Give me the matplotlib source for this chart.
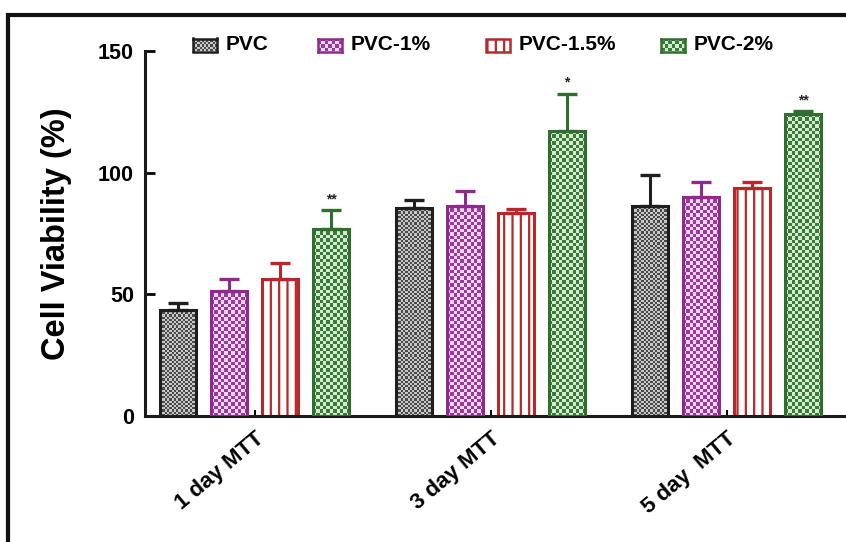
import numpy as np
import matplotlib
matplotlib.use("Agg")
import matplotlib.pyplot as plt
from matplotlib.colors import ListedColormap
from matplotlib.patches import Rectangle
from matplotlib import font_manager

# ---------------- data ----------------
categories = ["1 day MTT", "3 day MTT", "5 day  MTT"]
series_names = ["PVC", "PVC-1%", "PVC-1.5%", "PVC-2%"]
pvc_mean = [43.5, 85.5, 86.5]
pvc_err = [2.8, 3.3, 12.5]
pvc1_mean = [51.5, 86.5, 90.0]
pvc1_err = [5.0, 6.0, 6.3]
pvc15_mean = [56.5, 83.5, 93.5]
pvc15_err = [6.2, 1.5, 2.5]
pvc2_mean = [77.0, 117.0, 124.0]
pvc2_err = [7.5, 15.5, 1.3]
pvc2_signif = ["**", "*", "**"]
yticks = [0, 50, 100, 150]

means = [pvc_mean, pvc1_mean, pvc15_mean, pvc2_mean]
errs = [pvc_err, pvc1_err, pvc15_err, pvc2_err]

# ---------------- style ----------------
edge_colors = ["#1e1e1e", "#8e2a8e", "#b8282a", "#2f6e2f"]
checker_dark = ["#4a4a4a", "#9a3a9a", None, "#3b7a3b"]
checker_light = ["#c8c8c8", "#f4d6f4", None, "#d4edcf"]
checker_cell = [2.2, 3.4, None, 3.4]

avail = {f.name for f in font_manager.fontManager.ttflist}
main_font = "Liberation Sans" if "Liberation Sans" in avail else "DejaVu Sans"
narrow_font = "Liberation Sans Narrow" if "Liberation Sans Narrow" in avail else main_font
plt.rcParams["font.family"] = [main_font, "DejaVu Sans"]
plt.rcParams["font.weight"] = "bold"
plt.rcParams["hatch.linewidth"] = 1.6

W, H = 846, 542
fig = plt.figure(figsize=(W / 100, H / 100), dpi=100)
ax_left, ax_bottom = 145 / W, 1 - 416 / H
ax_w, ax_h = 1 - ax_left, (416 - 51) / H
ax = fig.add_axes([ax_left, ax_bottom, ax_w, ax_h])

xlim = (-0.464, 2.506)
ylim = (0, 150)
px_x = ax_w * W / (xlim[1] - xlim[0])
px_y = ax_h * H / (ylim[1] - ylim[0])

step = 0.216
width = 0.153
offsets = [(-1.5 + i) * step for i in range(4)]
xg = np.arange(len(categories))

for s in range(4):
    xs = xg + offsets[s]
    if s == 2:
        bars = ax.bar(xs, means[s], width, facecolor="white", edgecolor=edge_colors[s],
                      hatch="||", linewidth=2.2, zorder=2)
    else:
        bars = ax.bar(xs, means[s], width, facecolor="none", edgecolor=edge_colors[s],
                      linewidth=2.2, zorder=3)
        cmap = ListedColormap([checker_light[s], checker_dark[s]])
        for b in bars:
            x0, w, h = b.get_x(), b.get_width(), b.get_height()
            nx = max(1, int(round(w * px_x / checker_cell[s])))
            ny = max(1, int(round(h * px_y / checker_cell[s])))
            arr = np.add.outer(np.arange(ny), np.arange(nx)) % 2
            im = ax.imshow(arr, extent=(x0, x0 + w, 0, h), cmap=cmap, origin="lower",
                           interpolation="nearest", aspect="auto", zorder=1)
            im.set_clip_path(b)
    ax.errorbar(xs, means[s], yerr=[np.zeros(3), errs[s]], fmt="none",
                ecolor=edge_colors[s], elinewidth=2.2, capsize=7.5, capthick=2.4, zorder=2)

for i in range(3):
    ax.text(xg[i] + offsets[3], pvc2_mean[i] + pvc2_err[i] + 1.5, pvc2_signif[i],
            ha="center", va="bottom", fontsize=10, color="#222")

ax.set_xlim(*xlim)
ax.set_ylim(*ylim)
ax.set_yticks(yticks)
ax.set_yticklabels([str(t) for t in yticks], fontsize=15.5, fontweight="bold")
ax.set_xticks(xg)
ax.set_xticklabels(categories, rotation=40, ha="right", va="top", rotation_mode="anchor",
                   fontsize=16, fontweight="bold")
ax.tick_params(axis="y", direction="in", length=7, width=2, pad=8)
ax.tick_params(axis="x", direction="in", length=4, width=1.5, pad=9)
for sp in ["top", "right"]:
    ax.spines[sp].set_visible(False)
for sp in ["left", "bottom"]:
    ax.spines[sp].set_linewidth(2.2)
    ax.spines[sp].set_color("#1a1a1a")

fig.text(57 / W, 1 - 234 / H, "Cell Viability (%)", rotation=90, ha="center", va="center",
         fontsize=23.5, fontweight="bold", family=[narrow_font, "DejaVu Sans"])

# ---------------- legend (manual keys) ----------------
leg_x = [193, 318, 486, 661]
leg_y = 45
kw, kh = 24, 13
for s in range(4):
    x0 = leg_x[s] / W
    y0 = 1 - (leg_y + kh / 2) / H
    wf, hf = kw / W, kh / H
    if s == 2:
        r = Rectangle((x0, y0), wf, hf, transform=fig.transFigure, facecolor="white",
                      edgecolor=edge_colors[s], hatch="||", linewidth=1.8)
        fig.add_artist(r)
    else:
        lax = fig.add_axes([x0, y0, wf, hf])
        nx = int(round(kw / checker_cell[s]))
        ny = int(round(kh / checker_cell[s]))
        arr = np.add.outer(np.arange(ny), np.arange(nx)) % 2
        lax.imshow(arr, cmap=ListedColormap([checker_light[s], checker_dark[s]]),
                   interpolation="nearest", aspect="auto")
        lax.set_xticks([]); lax.set_yticks([])
        for sp in lax.spines.values():
            sp.set_color(edge_colors[s]); sp.set_linewidth(1.8)
    fig.text((leg_x[s] + kw + 9) / W, 1 - leg_y / H, series_names[s], ha="left", va="center",
             fontsize=15, fontweight="bold")

# outer frame (cropped on right and bottom)
fig.add_artist(Rectangle((8 / W, -0.2), 1.5, 1.2 - 15 / H, transform=fig.transFigure,
                         fill=False, linewidth=3, edgecolor="#111"))

fig.savefig("out.png", dpi=100)
